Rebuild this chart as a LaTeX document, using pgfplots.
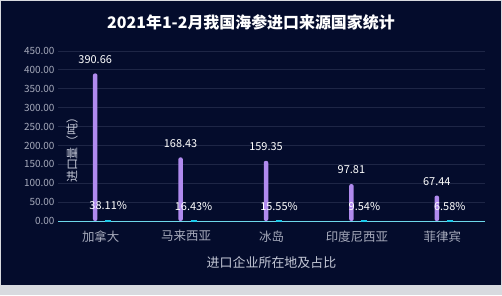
\documentclass[border=0pt]{standalone}
\usepackage{pgfplots}
\pgfplotsset{compat=1.18}
\usepackage{fontspec}
\setmainfont{Noto Sans CJK SC}
\definecolor{bg}{HTML}{040C2C}
\definecolor{frame}{HTML}{D8DADF}
\definecolor{gridc}{HTML}{1E2646}
\definecolor{basec}{HTML}{6ED8EA}
\definecolor{barp}{HTML}{B08AEE}
\definecolor{barc}{HTML}{1CC8E8}
\definecolor{tickc}{HTML}{A6AABB}
\definecolor{labc}{HTML}{C4C8D6}
\begin{document}
\begin{tikzpicture}[x=1bp,y=1bp]
\fill[frame] (-58,-74) rectangle (444,221);
\fill[bg] (-57,-64) rectangle (443,220);
\path[use as bounding box] (-58,-74) rectangle (444,221);
\begin{axis}[
  at={(0,0)}, anchor=south west,
  scale only axis, width=427bp, height=170bp,
  xmin=-0.5, xmax=4.5, ymin=0, ymax=450,
  ytick={0,50,...,450},
  xtick={0,1,2,3,4},
  xticklabels={加拿大,马来西亚,冰岛,印度尼西亚,菲律宾},
  major tick length=0pt,
  axis x line*=bottom, axis y line*=left,
  x axis line style={draw=basec, line width=1pt, -},
  y axis line style={draw=none},
  ymajorgrids, grid style={gridc, line width=0.8pt},
  /pgf/number format/assume math mode=true,
  yticklabel style={font=\fontsize{10}{11}\selectfont, text=tickc,
    /pgf/number format/.cd, fixed, fixed zerofill, precision=2},
  xticklabel style={font=\fontsize{12.5}{13}\selectfont, text=tickc, yshift=-6bp},
  xlabel={进口企业所在地及占比},
  xlabel style={font=\fontsize{13}{14}\selectfont, text=labc, yshift=-7bp},
  ylabel={进口量（吨）},
  every axis y label/.style={at={(rel axis cs:0.033,0.435)}, rotate=90, anchor=center,
    font=\fontsize{12}{13}\selectfont, text=labc},
  ybar, bar width=4.5bp,
  nodes near coords style={font=\fontsize{11}{12}\selectfont, text=white, anchor=south, inner sep=0pt, yshift=10bp},
]
\addplot[fill=barp, draw=none, rounded corners=2bp, bar shift=-5.5bp,
  nodes near coords={\pgfmathprintnumber[fixed,fixed zerofill,precision=2]{\pgfplotspointmeta}}]
  coordinates {(0,390.66) (1,168.43) (2,159.35) (3,97.81) (4,67.44)};
\addplot[fill=barc, draw=barc, line width=1.6bp, bar shift=7.5bp,
  point meta=explicit,
  nodes near coords={\pgfmathprintnumber[fixed,fixed zerofill,precision=2]{\pgfplotspointmeta}\%}]
  coordinates {(0,0.3811) [38.11] (1,0.1643) [16.43] (2,0.1555) [15.55] (3,0.0954) [9.54] (4,0.0658) [6.58]};
\end{axis}
\node[font=\fontsize{16}{17}\selectfont\bfseries, text=white] at (193,199) {2021年1-2月我国海参进口来源国家统计};
\end{tikzpicture}
\end{document}
